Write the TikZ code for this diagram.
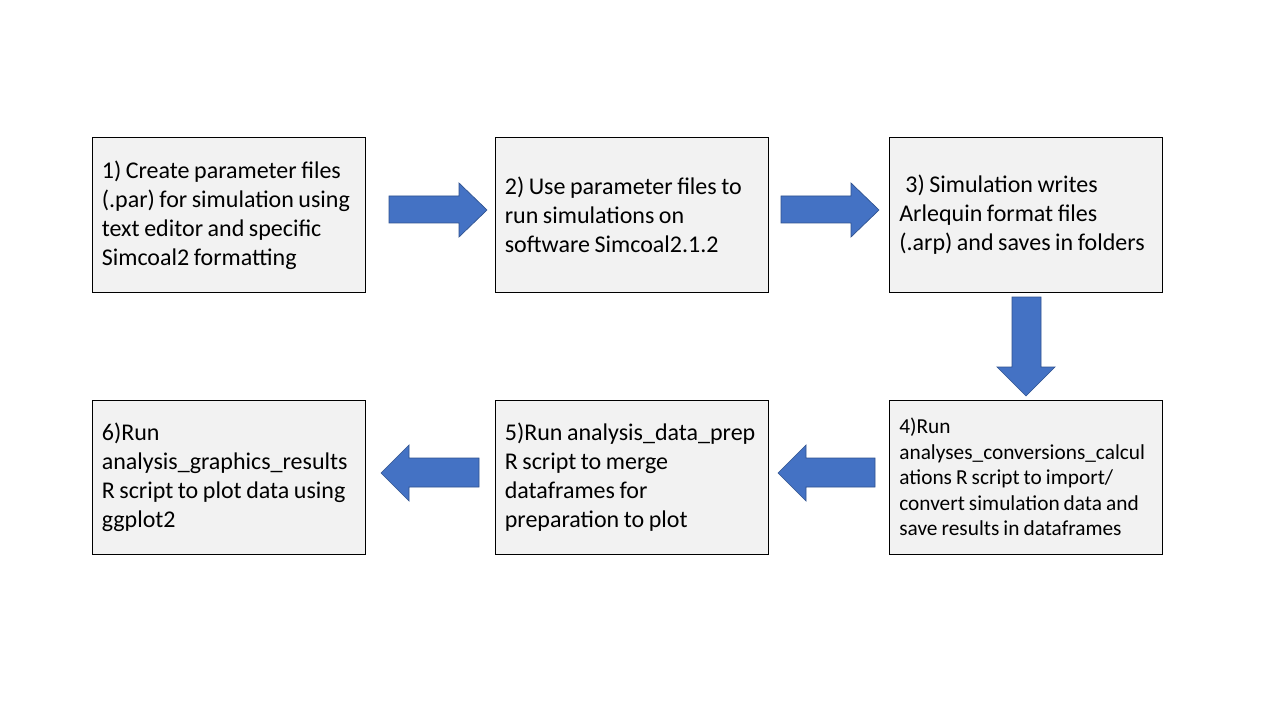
\documentclass[tikz,border=0pt]{standalone}
\usepackage{fontspec}
\setmainfont{Carlito}
\definecolor{boxgray}{HTML}{F2F2F2}
\definecolor{arrowblue}{HTML}{4472C4}
\definecolor{arrowedge}{HTML}{2F528F}
\newcommand{\oneline}[1]{{\spaceskip=0.19em\relax\mbox{#1}}}
\tikzset{
  stepbox/.style={draw=black, line width=0.75pt, fill=boxgray,
    minimum width=204.75pt, minimum height=115.5pt, text width=190pt,
    inner xsep=7.2pt, align=left, font=\fontsize{18}{21.8}\selectfont},
  smalltext/.style={font=\fontsize{16}{19.2}\selectfont},
  blockarrow/.style={fill=arrowblue, draw=arrowedge, line width=0.5pt}
}
\begin{document}
\begin{tikzpicture}[x=0.75pt,y=-0.75pt]
\useasboundingbox[fill=white] (0,0) rectangle (1280,720);

\node[stepbox] (b1) at (228.5,215) {\oneline{1) Create parameter files}\\\oneline{(.par) for simulation using}\\\oneline{text editor and specific}\\\oneline{Simcoal2 formatting}};
\node[stepbox] (b2) at (631.5,215) {\oneline{2) Use parameter files to}\\\oneline{run simulations on}\\\oneline{software Simcoal2.1.2}};
\node[stepbox] (b3) at (1026,215) {\oneline{\hspace{0.25em}3) Simulation writes}\\\oneline{Arlequin format files}\\\oneline{(.arp) and saves in folders}};
\node[stepbox,smalltext] (b4) at (1026,477) {\oneline{4)Run}\\\oneline{analyses\_conversions\_calcul}\\\oneline{ations R script to import/}\\\oneline{convert simulation data and}\\\oneline{save results in dataframes}};
\node[stepbox] (b5) at (631.5,477) {\oneline{5)Run analysis\_data\_prep}\\\oneline{R script to merge}\\\oneline{dataframes for}\\\oneline{preparation to plot}};
\node[stepbox] (b6) at (228.5,477) {\oneline{6)Run}\\\oneline{analysis\_graphics\_results}\\\oneline{R script to plot data using}\\\oneline{ggplot2}};

% block arrows between the boxes
\draw[blockarrow] (389,196) -- (459,196) -- (459,183) -- (487,210) -- (459,237) -- (459,223) -- (389,223) -- cycle;
\draw[blockarrow] (781,196) -- (851,196) -- (851,183) -- (879,210) -- (851,237) -- (851,223) -- (781,223) -- cycle;
\draw[blockarrow] (1012,297) -- (1041,297) -- (1041,367) -- (1055,367) -- (1026,396) -- (997,367) -- (1012,367) -- cycle;
\draw[blockarrow] (875,458) -- (806,458) -- (806,445) -- (778,473) -- (806,501) -- (806,487) -- (875,487) -- cycle;
\draw[blockarrow] (479,458) -- (409,458) -- (409,445) -- (381,473) -- (409,501) -- (409,487) -- (479,487) -- cycle;
\end{tikzpicture}
\end{document}
